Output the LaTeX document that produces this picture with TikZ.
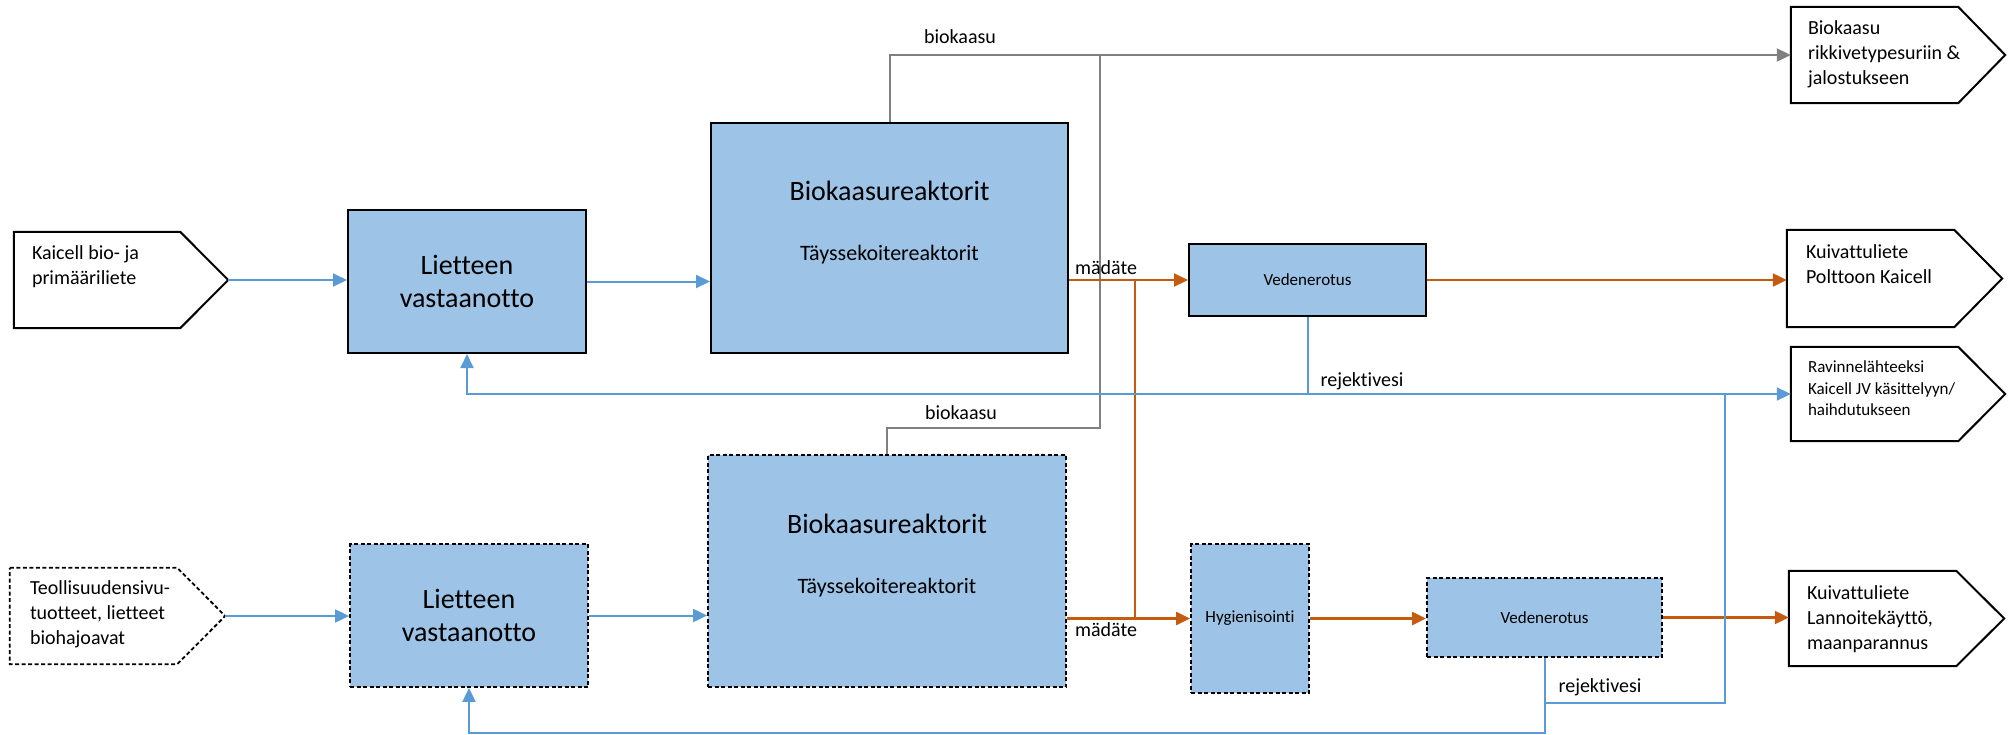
\documentclass[tikz,border=0pt]{standalone}
\usepackage{fontspec}
\setmainfont{Carlito}[Ligatures={NoCommon}]
\usetikzlibrary{arrows.meta,calc}
\definecolor{boxblue}{HTML}{9DC3E6}
\definecolor{lineblue}{HTML}{5B9BD5}
\definecolor{lineorange}{HTML}{C55A11}
\definecolor{linegray}{HTML}{808080}
\begin{document}
\begin{tikzpicture}[x=1pt,y=-1pt,
  procbox/.style={draw=black,line width=2pt,fill=boxblue,inner sep=0pt,align=center},
  dashbox/.style={procbox,dash pattern=on 4pt off 2.5pt,line width=1.8pt},
  pentbody/.style={inner sep=0pt,draw=none},
  pentline/.style={draw=black,line width=2pt,fill=white,line join=miter},
  pentdash/.style={pentline,dash pattern=on 4pt off 2.5pt,line width=1.8pt},
  penttxt/.style={anchor=north west,inner sep=0pt,align=left,font=\fontsize{20}{25}\selectfont},
  smalltxt/.style={anchor=north west,inner sep=0pt,align=left,font=\fontsize{17}{21.5}\selectfont},
  bigtxt/.style={font=\fontsize{28}{33}\selectfont},
  midtxt/.style={font=\fontsize{22}{26}\selectfont},
  vtxt/.style={font=\fontsize{17}{20}\selectfont},
  lbl/.style={inner sep=0pt,font=\fontsize{20}{24}\selectfont},
  tip/.style={-{Triangle[length=14pt,width=13pt]}},
  blueline/.style={draw=lineblue,line width=2pt},
  bluearr/.style={blueline,tip},
  orangeline/.style={draw=lineorange,line width=2.2pt},
  orangearr/.style={orangeline,tip},
  grayline/.style={draw=linegray,line width=2pt},
  grayarr/.style={grayline,tip}
]
\useasboundingbox (0,0) rectangle (2013,734);

% input pentagons
\node[pentbody,minimum width=166pt,minimum height=96pt] (in1) at (97,280) {};
\draw[pentline] (in1.north west) -- (in1.north east) -- ($(in1.east)+(48,0)$) coordinate (in1tip) -- (in1.south east) -- (in1.south west) -- cycle;
\node[penttxt] (in1t) at ($(in1.north west)+(18,14)$) {Kaicell bio- ja\\primääriliete};

\node[pentbody,minimum width=167pt,minimum height=96pt] (in2) at (93.5,616) {};
\draw[pentdash] (in2.north west) -- (in2.north east) -- ($(in2.east)+(48,0)$) coordinate (in2tip) -- (in2.south east) -- (in2.south west) -- cycle;
\node[penttxt] (in2t) at ($(in2.north west)+(20,13)$) {Teollisuudensivu-\\tuotteet, lietteet\\biohajoavat};

% output pentagons
\node[pentbody,minimum width=167pt,minimum height=96pt] (out1) at (1874.5,55) {};
\draw[pentline] (out1.north west) -- (out1.north east) -- ($(out1.east)+(47,0)$) -- (out1.south east) -- (out1.south west) -- cycle;
\node[penttxt] (out1t) at ($(out1.north west)+(17,14)$) {Biokaasu\\rikkivetypesuriin \&\\jalostukseen};

\node[pentbody,minimum width=167pt,minimum height=97pt] (out2) at (1870.5,278.5) {};
\draw[pentline] (out2.north west) -- (out2.north east) -- ($(out2.east)+(48,0)$) -- (out2.south east) -- (out2.south west) -- cycle;
\node[penttxt] (out2t) at ($(out2.north west)+(19,15)$) {Kuivattuliete\\Polttoon Kaicell};

\node[pentbody,minimum width=167pt,minimum height=94pt] (out3) at (1874.5,394) {};
\draw[pentline] (out3.north west) -- (out3.north east) -- ($(out3.east)+(47,0)$) -- (out3.south east) -- (out3.south west) -- cycle;
\node[smalltxt] (out3t) at ($(out3.north west)+(17,14)$) {Ravinnelähteeksi\\Kaicell JV käsittelyyn/\\haihdutukseen};

\node[pentbody,minimum width=167pt,minimum height=95pt] (out4) at (1872.5,618.5) {};
\draw[pentline] (out4.north west) -- (out4.north east) -- ($(out4.east)+(48,0)$) -- (out4.south east) -- (out4.south west) -- cycle;
\node[penttxt] (out4t) at ($(out4.north west)+(18,15)$) {Kuivattuliete\\Lannoitekäyttö,\\maanparannus};

% process boxes
\node[procbox,bigtxt,minimum width=238pt,minimum height=143pt] (L1) at (467,281.5) {Lietteen\\vastaanotto};
\node[dashbox,bigtxt,minimum width=238pt,minimum height=143pt] (L2) at (469,615.5) {Lietteen\\vastaanotto};
\node[procbox,minimum width=357pt,minimum height=230pt] (R1) at (889.5,238) {};
\node[bigtxt,inner sep=0pt] (R1a) at ($(R1.center)+(0,-47)$) {Biokaasureaktorit};
\node[midtxt,inner sep=0pt] (R1b) at ($(R1.center)+(0,17)$) {Täyssekoitereaktorit};
\node[dashbox,minimum width=358pt,minimum height=232pt] (R2) at (887,571) {};
\node[bigtxt,inner sep=0pt] (R2a) at ($(R2.center)+(0,-47)$) {Biokaasureaktorit};
\node[midtxt,inner sep=0pt] (R2b) at ($(R2.center)+(0,17)$) {Täyssekoitereaktorit};
\node[procbox,vtxt,minimum width=237pt,minimum height=72pt] (V1) at (1307.5,280) {Vedenerotus};
\node[dashbox,vtxt,minimum width=118pt,minimum height=149pt] (H) at (1250,618.5) {Hygienisointi};
\node[dashbox,vtxt,minimum width=235pt,minimum height=79pt] (V2) at (1544.5,617.5) {Vedenerotus};

% biogas lines
\coordinate (gj) at (1100,56);
\draw[grayarr] (R1.north) |- (out1.west);
\draw[grayline] (R2.north) -- ++(0,-26) -| (gj);
\node[lbl] (g1) at (960,37) {biokaasu};
\node[lbl] (g2) at (961,413) {biokaasu};

% digestate lines
\draw[orangearr] (V1.west -| R1.east) -- (V1.west);
\coordinate (mj) at ($(R1.east |- V1.west)+(66,0)$);
\draw[orangeline] (mj) -- (mj |- H.west);
\draw[orangearr] (H.west -| R2.east) -- (H.west);
\draw[orangearr] (V1.east) -- (V1.east -| out2.west);
\draw[orangearr] (H.east) -- (H.east -| V2.west);
\draw[orangearr] (V2.east) -- (V2.east -| out4.west);
\node[lbl] (m1) at (1106,268) {mädäte};
\node[lbl] (m2) at (1106,630) {mädäte};

% sludge lines
\draw[bluearr] (in1tip) -- (in1tip -| L1.west);
\draw[bluearr] (in2tip) -- (in2tip -| L2.west);
\draw[bluearr] (L1.east) -- (L1.east -| R1.west);
\draw[bluearr] (L2.east) -- (L2.east -| R2.west);

% reject water
\coordinate (bj) at (1725,394);
\draw[bluearr] (V1.south) |- (out3.west);
\draw[bluearr] (bj) -| (L1.south);
\draw[bluearr] (V2.south) -- ++(0,75) -| (L2.south);
\draw[blueline] ($(V2.south)+(0,45)$) -| (bj);
\node[lbl] (r1) at (1362,381) {rejektivesi};
\node[lbl] (r2) at (1600,687) {rejektivesi};
\end{tikzpicture}
\end{document}
